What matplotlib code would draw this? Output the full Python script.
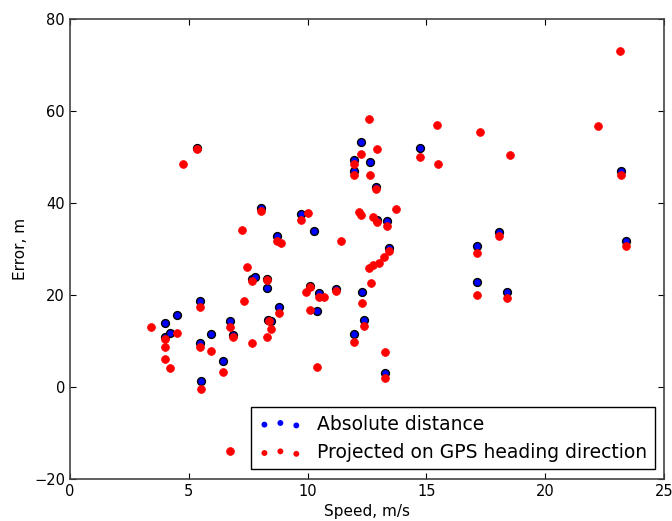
import matplotlib
matplotlib.use("Agg")
import matplotlib.pyplot as plt

# absolute distance error (blue)
abs_speed = [4.01, 4.01, 4.21, 4.52, 5.35, 5.47, 5.47, 5.53, 5.95, 6.43, 6.73, 6.87,
             7.66, 7.77, 8.04, 8.30, 8.30, 8.33, 8.45, 8.72, 8.78, 9.72, 10.10, 10.28,
             10.40, 10.47, 11.20, 11.95, 11.94, 11.97, 12.25, 12.30, 12.37, 12.65, 12.87,
             12.93, 13.26, 13.34, 13.43, 14.73, 17.14, 17.14, 18.07, 18.39, 23.18, 23.41]
abs_err = [13.8, 10.8, 11.8, 15.6, 51.9, 18.7, 9.5, 1.3, 11.4, 5.6, 14.3, 11.3,
           23.5, 23.8, 38.8, 23.5, 21.4, 14.5, 14.4, 32.8, 17.4, 37.5, 21.9, 33.8,
           16.4, 20.3, 21.3, 11.5, 46.9, 49.2, 53.2, 20.6, 14.5, 48.9, 43.4,
           36.3, 3.1, 36.0, 30.2, 51.9, 30.5, 22.8, 33.7, 20.6, 46.8, 31.7]

# error projected on GPS heading direction (red)
proj_speed = [3.40, 4.01, 4.01, 4.01, 4.21, 4.52, 4.76, 5.35, 5.47, 5.47, 5.53, 5.95,
              6.43, 6.72, 6.73, 6.87, 7.23, 7.34, 7.45, 7.66, 7.67, 8.04, 8.30, 8.30,
              8.40, 8.45, 8.72, 8.88, 8.78, 9.72, 10.03, 9.92, 10.10, 10.10, 10.41, 10.47,
              10.69, 11.20, 11.39, 11.95, 11.94, 11.97, 12.15, 12.25, 12.25, 12.30, 12.37,
              12.60, 12.58, 12.65, 12.67, 12.77, 12.77, 12.87, 12.92, 12.93, 13.00, 13.20,
              13.26, 13.26, 13.34, 13.43, 13.72, 14.73, 15.45, 15.51, 17.14, 17.14, 17.24,
              18.07, 18.39, 18.53, 22.22, 23.15, 23.18, 23.41]
proj_err = [12.9, 10.3, 8.7, 6.0, 4.1, 11.6, 48.4, 51.6, 17.4, 8.6, -0.4, 7.8,
            3.2, -13.9, 12.9, 10.9, 34.0, 18.7, 26.0, 22.9, 9.5, 38.3, 23.2, 10.9,
            14.2, 12.6, 31.7, 31.2, 16.0, 36.3, 37.8, 20.6, 21.6, 16.8, 4.4, 19.6,
            19.6, 20.8, 31.7, 9.7, 46.0, 48.5, 38.0, 37.3, 50.6, 18.2, 13.3,
            58.3, 25.9, 46.0, 22.5, 26.5, 36.8, 43.0, 51.6, 35.9, 26.8, 28.3,
            7.6, 1.9, 34.9, 29.6, 38.6, 50.0, 56.9, 48.5, 29.0, 19.9, 55.3,
            32.8, 19.2, 50.4, 56.6, 73.0, 46.1, 30.7]

fig = plt.figure(figsize=(6.72, 5.21), dpi=100)
ax = fig.add_axes([0.104, 0.081, 0.884, 0.883])

ax.scatter(abs_speed, abs_err, s=32, c='blue', edgecolors='black', linewidths=1,
           label='Absolute distance', zorder=2)
ax.scatter(proj_speed, proj_err, s=32, c='red', edgecolors='red', linewidths=0.5,
           label='Projected on GPS heading direction', zorder=3)

ax.set_xlim(0, 25)
ax.set_ylim(-20, 80)
ax.set_xticks([0, 5, 10, 15, 20, 25])
ax.set_yticks([-20, 0, 20, 40, 60, 80])
ax.tick_params(direction='in', top=True, right=True, labelsize=10.5, length=4)
for sp in ax.spines.values():
    sp.set_color('#444444')
    sp.set_linewidth(1.2)

ax.set_xlabel('Speed, m/s', fontsize=11)
ax.set_ylabel('Error, m', fontsize=11)

leg = ax.legend(loc='lower right', scatterpoints=3, markerscale=0.75, fontsize=13.5,
                fancybox=False, edgecolor='black', framealpha=1,
                scatteryoffsets=[0.375, 0.5, 0.3125], handlelength=2.3,
                handletextpad=0.8, borderaxespad=0.5)
leg.get_frame().set_linewidth(1.0)
for h in leg.legend_handles:
    h.set_linewidth(0)

plt.savefig('out.png', dpi=100)
